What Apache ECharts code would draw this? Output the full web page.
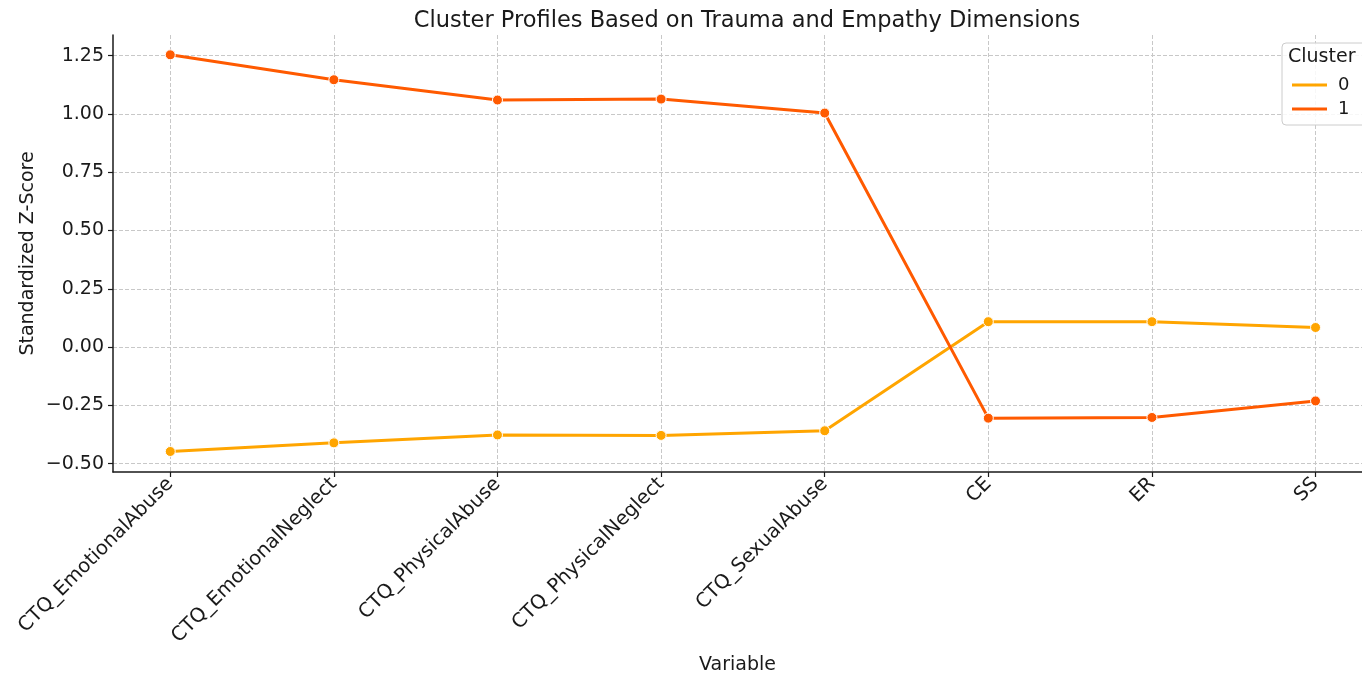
<!DOCTYPE html>
<html>
<head>
<meta charset="utf-8">
<script src="https://cdn.jsdelivr.net/npm/echarts@6/dist/echarts.min.js"></script>
<style>html,body{margin:0;padding:0;background:#fff;}#c{width:1362px;height:677px;}</style>
</head>
<body>
<div id="c"></div>
<script>
const categories = ["CTQ_EmotionalAbuse","CTQ_EmotionalNeglect","CTQ_PhysicalAbuse","CTQ_PhysicalNeglect","CTQ_SexualAbuse","CE","ER","SS"];
const cluster0 = [-0.448, -0.411, -0.377, -0.379, -0.359, 0.109, 0.109, 0.084];
const cluster1 = [1.254, 1.147, 1.060, 1.064, 1.004, -0.305, -0.302, -0.231];
const yTicks = [-0.5, -0.25, 0, 0.25, 0.5, 0.75, 1.0, 1.25];
const seriesNames = ["0", "1"];

const FONT = "DejaVu Sans";
const C0 = "#FFA500", C1 = "#FF5A00";
const xIdx = categories.map((c, i) => i);
const toPairs = arr => arr.map((v, i) => [i, v]);

const chart = echarts.init(document.getElementById('c'), null, {renderer: 'canvas'});
const gridLine = {show: true, lineStyle: {color: '#c8c8c8', type: [4, 2], width: 1}};
chart.setOption({
  animation: false,
  backgroundColor: '#fff',
  textStyle: {fontFamily: FONT},
  title: {
    text: 'Cluster Profiles Based on Trauma and Empathy Dimensions',
    left: 742, top: 5, textAlign: 'center',
    textStyle: {fontFamily: FONT, fontSize: 22.5, fontWeight: 'normal', color: '#1a1a1a'}
  },
  grid: {left: 113, right: 0, top: 35, bottom: 205, containLabel: false, outerBoundsMode: 'none'},
  xAxis: {
    type: 'value', min: -0.35, max: 7.284,
    name: 'Variable', nameLocation: 'middle', nameGap: 184,
    nameTextStyle: {fontFamily: FONT, fontSize: 19, color: '#1a1a1a'},
    axisLine: {show: true, onZero: false, lineStyle: {color: '#1a1a1a', width: 1.5}},
    axisTick: {show: true, customValues: xIdx, length: 5, lineStyle: {color: '#1a1a1a', width: 1.2}},
    axisLabel: {customValues: xIdx, rotate: 45, margin: 9, fontFamily: FONT, fontSize: 19.6, color: '#1a1a1a',
      formatter: v => categories[Math.round(v)]},
    splitLine: gridLine
  },
  yAxis: {
    type: 'value', min: -0.536, max: 1.339,
    name: 'Standardized Z-Score', nameLocation: 'middle', nameGap: 75, nameRotate: 90,
    nameMoveOverlap: false,
    nameTextStyle: {fontFamily: FONT, fontSize: 19, color: '#1a1a1a'},
    axisLine: {show: true, onZero: false, lineStyle: {color: '#1a1a1a', width: 1.5}},
    axisTick: {show: true, customValues: yTicks, length: 5, lineStyle: {color: '#1a1a1a', width: 1.2}},
    axisLabel: {customValues: yTicks, margin: 9, fontFamily: FONT, fontSize: 19, color: '#1a1a1a',
      formatter: v => v.toFixed(2).replace('-', '\u2212')},
    splitLine: gridLine
  },
  legend: {
    orient: 'vertical', left: 1282, top: 43,
    padding: [33, 20, 7, 10], itemGap: 6,
    backgroundColor: 'rgba(255,255,255,0.85)', borderColor: '#cccccc', borderWidth: 1, borderRadius: 4,
    itemWidth: 35, itemHeight: 3,
    textStyle: {fontFamily: FONT, fontSize: 18, color: '#1a1a1a', padding: [0, 0, 0, 6]},
    data: [
      {name: '0', icon: 'rect', itemStyle: {color: C0, borderWidth: 0}, lineStyle: {color: C0}},
      {name: '1', icon: 'rect', itemStyle: {color: C1, borderWidth: 0}, lineStyle: {color: C1}}
    ]
  },
  graphic: [{
    type: 'text', left: 1288, top: 48, z: 100,
    style: {text: 'Cluster', font: '19px "DejaVu Sans"', fill: '#1a1a1a'}
  }],
  series: [
    {name: seriesNames[0], type: 'line', data: toPairs(cluster0), color: C0,
     lineStyle: {width: 3, color: C0}, symbol: 'circle', symbolSize: 10,
     itemStyle: {color: C0, borderColor: '#fff', borderWidth: 1}, z: 3},
    {name: seriesNames[1], type: 'line', data: toPairs(cluster1), color: C1,
     lineStyle: {width: 3, color: C1}, symbol: 'circle', symbolSize: 10,
     itemStyle: {color: C1, borderColor: '#fff', borderWidth: 1}, z: 4}
  ]
});
</script>
</body>
</html>
